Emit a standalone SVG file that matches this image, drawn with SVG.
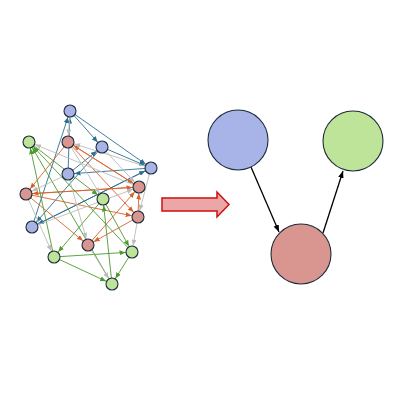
<svg xmlns="http://www.w3.org/2000/svg" width="400" height="400" viewBox="0 0 400 400">
<style>
.n{stroke:#1c2b3a;stroke-width:1.1}
.b{fill:#a8b4e8}.r{fill:#d9958f}.g{fill:#bde499}
.eb{stroke:#2a7090;stroke-width:0.9;fill:none;marker-end:url(#mb)}
.eo{stroke:#d9622b;stroke-width:0.9;fill:none;marker-end:url(#mo)}
.eg{stroke:#4b9a2e;stroke-width:0.9;fill:none;marker-end:url(#mg)}
.ey{stroke:#bbbbbb;stroke-width:0.9;fill:none;marker-end:url(#my)}
.ek{stroke:#000;stroke-width:1.3;fill:none;marker-end:url(#mk)}
</style>
<defs>
<marker id="mb" markerUnits="userSpaceOnUse" markerWidth="6" markerHeight="5" refX="12.5" refY="2.5" orient="auto"><path d="M0,0L6,2.5L0,5z" fill="#2a7090"/></marker>
<marker id="mo" markerUnits="userSpaceOnUse" markerWidth="6" markerHeight="5" refX="12.5" refY="2.5" orient="auto"><path d="M0,0L6,2.5L0,5z" fill="#d9622b"/></marker>
<marker id="mg" markerUnits="userSpaceOnUse" markerWidth="6" markerHeight="5" refX="12.5" refY="2.5" orient="auto"><path d="M0,0L6,2.5L0,5z" fill="#4b9a2e"/></marker>
<marker id="my" markerUnits="userSpaceOnUse" markerWidth="6" markerHeight="5" refX="12.5" refY="2.5" orient="auto"><path d="M0,0L6,2.5L0,5z" fill="#bbbbbb"/></marker>
<marker id="mk" markerUnits="userSpaceOnUse" markerWidth="7" markerHeight="5.5" refX="7" refY="2.75" orient="auto"><path d="M0,0L7,2.75L0,5.5z" fill="#000"/></marker>
</defs>
<g id="connectors">
<line class="eb" x1="70" y1="111" x2="102" y2="147"/>
<line class="eb" x1="70" y1="111" x2="151" y2="168"/>
<line class="eb" x1="102" y1="147" x2="151" y2="168"/>
<line class="eb" x1="68" y1="174" x2="102" y2="147"/>
<line class="eb" x1="151" y1="168" x2="68" y2="174"/>
<line class="eb" x1="68" y1="174" x2="70" y2="111"/>
<line class="eb" x1="32" y1="227" x2="70" y2="111"/>
<line class="eb" x1="102" y1="147" x2="32" y2="227"/>
<line class="eb" x1="151" y1="168" x2="32" y2="227"/>
<line class="eb" x1="32" y1="227" x2="151" y2="168"/>
<line class="eo" x1="68" y1="142" x2="26" y2="194"/>
<line class="eo" x1="26" y1="194" x2="139" y2="187"/>
<line class="eo" x1="139" y1="187" x2="26" y2="194"/>
<line class="eo" x1="68" y1="142" x2="138" y2="217"/>
<line class="eo" x1="68" y1="142" x2="139" y2="187"/>
<line class="eo" x1="88" y1="245" x2="139" y2="187"/>
<line class="eo" x1="138" y1="217" x2="88" y2="245"/>
<line class="eo" x1="26" y1="194" x2="88" y2="245"/>
<line class="eo" x1="138" y1="217" x2="139" y2="187"/>
<line class="eo" x1="139" y1="187" x2="68" y2="142"/>
<line class="eo" x1="26" y1="194" x2="138" y2="217"/>
<line class="eg" x1="54" y1="257" x2="29" y2="142"/>
<line class="eg" x1="112" y1="284" x2="29" y2="142"/>
<line class="eg" x1="132" y1="252" x2="29" y2="142"/>
<line class="eg" x1="29" y1="142" x2="103" y2="199"/>
<line class="eg" x1="112" y1="284" x2="103" y2="199"/>
<line class="eg" x1="103" y1="199" x2="54" y2="257"/>
<line class="eg" x1="103" y1="199" x2="132" y2="252"/>
<line class="eg" x1="54" y1="257" x2="132" y2="252"/>
<line class="eg" x1="54" y1="257" x2="112" y2="284"/>
<line class="eg" x1="132" y1="252" x2="112" y2="284"/>
<line class="ey" x1="70" y1="111" x2="68" y2="142"/>
<line class="ey" x1="139" y1="187" x2="29" y2="142"/>
<line class="ey" x1="151" y1="168" x2="138" y2="217"/>
<line class="ey" x1="138" y1="217" x2="132" y2="252"/>
<line class="ey" x1="26" y1="194" x2="54" y2="257"/>
<line class="ey" x1="88" y1="245" x2="112" y2="284"/>
<line class="ey" x1="102" y1="147" x2="139" y2="187"/>
<line class="ey" x1="68" y1="142" x2="103" y2="199"/>
<line class="ey" x1="32" y1="227" x2="139" y2="187"/>
<line class="ey" x1="68" y1="174" x2="26" y2="194"/>
<line class="ey" x1="68" y1="174" x2="88" y2="245"/>
<line class="ey" x1="151" y1="168" x2="68" y2="142"/>
<line class="ek" x1="251" y1="167" x2="279" y2="232"/>
<line class="ek" x1="323" y1="233" x2="343" y2="171"/>
</g>
<g id="nodes-left">
<circle id="B1" class="n b" cx="70" cy="111" r="6"/>
<circle id="B2" class="n b" cx="102" cy="147" r="6"/>
<circle id="B3" class="n b" cx="151" cy="168" r="6"/>
<circle id="B4" class="n b" cx="68" cy="174" r="6"/>
<circle id="B5" class="n b" cx="32" cy="227" r="6"/>
<circle id="R1" class="n r" cx="68" cy="142" r="6"/>
<circle id="R2" class="n r" cx="139" cy="187" r="6"/>
<circle id="R3" class="n r" cx="26" cy="194" r="6"/>
<circle id="R4" class="n r" cx="138" cy="217" r="6"/>
<circle id="R5" class="n r" cx="88" cy="245" r="6"/>
<circle id="G1" class="n g" cx="29" cy="142" r="6"/>
<circle id="G2" class="n g" cx="103" cy="199" r="6"/>
<circle id="G3" class="n g" cx="54" cy="257" r="6"/>
<circle id="G4" class="n g" cx="132" cy="252" r="6"/>
<circle id="G5" class="n g" cx="112" cy="284" r="6"/>
</g>
<g id="big-arrow">
<polygon points="162,198 217,198 217,192 229,204.5 217,217 217,211 162,211" fill="#eba7a7" stroke="#cc1111" stroke-width="1.5"/>
</g>
<g id="blue"><circle class="n b" cx="238" cy="140" r="30"/></g>
<g id="green"><circle class="n g" cx="353" cy="141" r="30"/></g>
<g id="red"><circle class="n r" cx="301" cy="254" r="30"/></g>
</svg>
